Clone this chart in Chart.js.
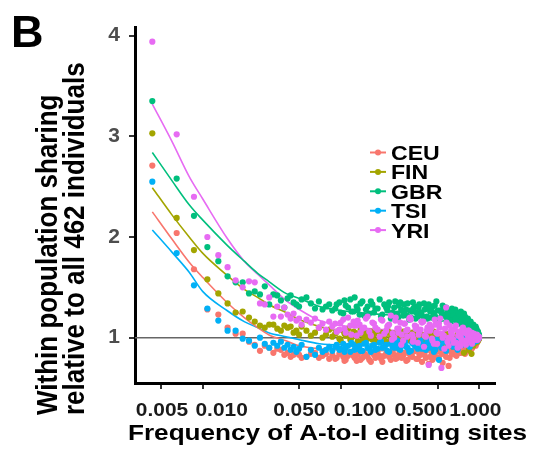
<!DOCTYPE html>
<html>
<head>
<meta charset="utf-8">
<script src="https://cdn.jsdelivr.net/npm/chart.js@4.4.1/dist/chart.umd.min.js"></script>
<style>
  body { margin: 0; background: #fff; }
  #wrap { width: 534px; height: 459px; }
</style>
</head>
<body>
<div id="wrap"><canvas id="sharing" width="534" height="459"></canvas></div>
<script>
// sites shared by k of the 462 individuals -> frequency k/462
const totalIndividuals = 462;
const siteCounts = [
  2, 3, 4, 5, 6, 7, 8, 9, 10, 11,
  12, 13, 14, 15, 16, 17, 18, 19, 20, 21,
  22, 23, 24, 26, 28, 30, 32, 34, 36, 38,
  40, 43, 46, 49, 52, 55, 58, 61, 64, 68,
  72, 76, 80, 85, 90, 95, 100, 106, 112, 118,
  124, 130, 137, 144, 151, 158, 166, 174, 182, 190,
  199, 208, 217, 226, 236, 246, 256, 266, 277, 288,
  299, 310, 322, 334, 346, 358, 370, 382, 394, 406,
  418, 430, 440, 448, 455, 460
];
// second pass over the crowded part (k >= 42)
const moreCounts = [
  42, 45, 48, 50, 54, 57, 60, 63, 66, 70,
  74, 78, 82, 88, 92, 98, 103, 109, 115, 121,
  127, 134, 140, 148, 154, 162, 170, 178, 186, 195,
  204, 212, 222, 231, 241, 251, 261, 272, 282, 293,
  304, 316, 328, 340, 352, 364, 376, 388, 400, 412,
  424, 435, 444, 452, 458
];
// third pass, only GBR and YRI (they cover the top of the cloud)
const thirdCounts = [
  101, 108, 114, 120, 126, 132, 139, 146, 153, 160,
  168, 176, 184, 193, 202, 210, 220, 229, 238, 248,
  258, 268, 279, 290, 301, 313, 325, 337, 349, 361,
  373, 385, 397, 409, 421, 432, 442, 450, 456
];

const populations = ['CEU', 'FIN', 'GBR', 'TSI', 'YRI'];
const colors = ['#F8766D', '#A3A500', '#00BF7D', '#00B0F6', '#E76BF3'];

const ceu = [
  2.71, 2.04, 1.68, 1.28, 1.23, 1.10, 1.04, 1.04, 0.96, 0.93,
  0.87, 0.92, 0.90, 0.85, 0.89, 0.88, 0.83, 0.85, 0.81, 0.83,
  0.86, 0.83, 0.80, 0.81, 0.84, 0.85, 0.80, 0.82, 0.84, 0.79,
  0.83, 0.80, 0.85, 0.77, 0.82, 0.86, 0.80, 0.83, 0.78, 0.84,
  0.81, 0.76, 0.83, 0.86, 0.79, 0.82, 0.85, 0.78, 0.83, 0.80,
  0.86, 0.82, 0.77, 0.84, 0.81, 0.87, 0.79, 0.83, 0.85, 0.80,
  0.74, 0.86, 0.82, 0.88, 0.79, 0.84, 0.87, 0.81, 0.72, 0.86,
  0.89, 0.83, 0.88, 0.85, 0.90, 0.86, 0.91, 0.88, 0.92, 0.89,
  0.93, 0.95, 0.94, 0.97, 0.98, 0.99
];
const ceuMore = [
  0.79, 0.84, 0.81, 0.78, 0.85, 0.82, 0.77, 0.86, 0.80, 0.83,
  0.78, 0.85, 0.80, 0.82, 0.76, 0.84, 0.81, 0.87, 0.79, 0.83,
  0.80, 0.85, 0.78, 0.82, 0.86, 0.79, 0.84, 0.76, 0.83, 0.88,
  0.81, 0.78, 0.85, 0.80, 0.86, 0.75, 0.83, 0.88, 0.80, 0.84,
  0.87, 0.82, 0.90, 0.85, 0.88, 0.84, 0.90, 0.87, 0.93, 0.90,
  0.94, 0.92, 0.96, 0.97, 0.99
];
const fin = [
  3.03, 2.19, 1.87, 1.58, 1.44, 1.34, 1.25, 1.26, 1.20, 1.16,
  1.12, 1.10, 1.13, 1.13, 1.09, 1.07, 1.12, 1.10, 1.11, 1.05,
  1.07, 1.03, 1.11, 1.07, 1.02, 1.05, 1.10, 1.00, 1.03, 1.08,
  1.01, 1.06, 0.97, 1.04, 1.09, 1.00, 1.05, 0.96, 1.07, 1.02,
  0.99, 1.06, 1.03, 0.97, 1.05, 1.01, 1.08, 0.98, 1.04, 1.00,
  0.95, 1.06, 1.02, 0.98, 1.05, 1.01, 0.96, 1.04, 1.00, 0.94,
  1.03, 0.99, 1.06, 0.97, 1.02, 0.93, 1.00, 1.04, 0.96, 1.01,
  0.91, 0.98, 1.03, 0.95, 0.99, 0.85, 0.97, 1.01, 0.94, 0.84,
  0.92, 0.97, 0.99, 0.96, 0.98, 1.00
];
const finMore = [
  1.04, 0.99, 1.07, 1.02, 0.98, 1.06, 1.01, 1.04, 0.97, 1.05,
  1.02, 0.98, 1.06, 1.00, 1.03, 0.96, 1.05, 1.01, 0.97, 1.03,
  1.00, 0.97, 1.04, 0.99, 0.95, 1.03, 0.98, 1.02, 0.96, 1.00,
  0.97, 1.02, 0.94, 0.99, 1.03, 0.96, 1.00, 0.92, 0.98, 1.01,
  0.95, 0.99, 0.93, 0.97, 1.00, 0.94, 0.98, 0.88, 0.96, 0.99,
  0.97, 0.95, 1.00, 0.98, 0.99
];
const gbr = [
  3.35, 2.58, 2.21, 1.90, 1.76, 1.61, 1.55, 1.55, 1.44, 1.46,
  1.43, 1.51, 1.33, 1.43, 1.42, 1.37, 1.30, 1.39, 1.42, 1.35,
  1.33, 1.31, 1.38, 1.40, 1.34, 1.29, 1.36, 1.28, 1.31, 1.33,
  1.27, 1.33, 1.25, 1.37, 1.30, 1.26, 1.40, 1.28, 1.34, 1.22,
  1.31, 1.36, 1.25, 1.29, 1.21, 1.33, 1.27, 1.19, 1.30, 1.24,
  1.35, 1.22, 1.28, 1.18, 1.26, 1.31, 1.21, 1.25, 1.17, 1.29,
  1.33, 1.20, 1.24, 1.36, 1.19, 1.27, 1.22, 1.30, 1.16, 1.25,
  1.20, 1.28, 1.14, 1.22, 1.18, 1.24, 1.12, 1.19, 1.15, 1.10,
  1.13, 1.08, 1.09, 1.05, 1.04, 1.02
];
const gbrMore = [
  1.29, 1.35, 1.24, 1.32, 1.38, 1.26, 1.31, 1.23, 1.36, 1.28,
  1.24, 1.33, 1.29, 1.38, 1.23, 1.30, 1.35, 1.25, 1.21, 1.32,
  1.27, 1.23, 1.34, 1.20, 1.29, 1.25, 1.33, 1.22, 1.28, 1.19,
  1.26, 1.31, 1.21, 1.27, 1.18, 1.32, 1.23, 1.26, 1.20, 1.29,
  1.24, 1.17, 1.22, 1.26, 1.15, 1.21, 1.17, 1.13, 1.16, 1.12,
  1.10, 1.11, 1.07, 1.06, 1.03
];
const gbrThird = [
  1.31, 1.24, 1.36, 1.20, 1.28, 1.33, 1.22, 1.27, 1.35, 1.19,
  1.30, 1.25, 1.34, 1.21, 1.29, 1.26, 1.32, 1.18, 1.27, 1.23,
  1.30, 1.20, 1.25, 1.17, 1.22, 1.19, 1.24, 1.15, 1.20, 1.14,
  1.17, 1.12, 1.14, 1.10, 1.11, 1.08, 1.07, 1.05, 1.03
];
const tsi = [
  2.55, 1.84, 1.52, 1.29, 1.17, 1.07, 1.07, 0.99, 0.97, 0.92,
  1.00, 0.94, 0.90, 0.95, 0.92, 0.96, 0.90, 0.93, 0.88, 0.91,
  0.86, 0.89, 0.93, 0.81, 0.88, 0.83, 0.90, 0.86, 0.88, 0.91,
  0.87, 0.93, 0.89, 0.86, 0.92, 0.95, 0.88, 0.91, 0.87, 0.94,
  0.90, 0.86, 0.93, 0.89, 0.96, 0.91, 0.87, 0.94, 0.90, 0.97,
  0.88, 0.93, 0.91, 0.86, 0.95, 0.92, 0.89, 0.97, 0.93, 0.88,
  0.95, 0.91, 0.86, 0.98, 0.78, 0.90, 0.96, 0.87, 0.94, 0.99,
  0.91, 0.95, 0.88, 0.97, 0.93, 0.99, 0.94, 0.96, 0.91, 0.98,
  0.95, 0.99, 0.97, 1.00, 0.99, 1.00
];
const tsiMore = [
  0.91, 0.88, 0.94, 0.90, 0.86, 0.93, 0.89, 0.92, 0.87, 0.95,
  0.89, 0.92, 0.88, 0.95, 0.90, 0.93, 0.86, 0.91, 0.94, 0.89,
  0.92, 0.96, 0.90, 0.87, 0.94, 0.91, 0.95, 0.89, 0.93, 0.97,
  0.90, 0.94, 0.88, 0.96, 0.92, 0.99, 0.89, 0.95, 0.93, 0.97,
  0.94, 0.98, 0.92, 0.96, 1.00, 0.95, 0.97, 0.93, 0.99, 0.96,
  0.98, 1.00, 0.97, 0.99, 1.00
];
const yri = [
  3.94, 3.02, 2.40, 2.00, 1.82, 1.70, 1.57, 1.50, 1.56, 1.55,
  1.34, 1.33, 1.40, 1.21, 1.31, 1.21, 1.30, 1.23, 1.19, 1.24,
  1.17, 1.19, 1.13, 1.18, 1.15, 1.19, 1.10, 1.14, 1.08, 1.16,
  1.11, 1.06, 1.15, 1.09, 1.20, 1.03, 1.12, 1.17, 1.05, 1.10,
  1.21, 1.02, 1.14, 1.08, 1.18, 1.04, 1.11, 1.22, 1.00, 1.09,
  1.15, 0.97, 1.07, 1.19, 1.03, 1.12, 0.95, 1.08, 1.16, 1.01,
  0.73, 1.10, 0.94, 1.05, 1.14, 0.70, 1.02, 1.30, 0.92, 1.06,
  0.98, 1.11, 0.90, 1.04, 0.96, 1.08, 0.93, 1.02, 0.97, 1.05,
  0.99, 1.01, 0.98, 1.00, 1.01, 1.00
];
const yriMore = [
  1.14, 1.08, 1.18, 1.05, 1.12, 1.16, 1.02, 1.13, 1.09, 1.19,
  1.06, 1.15, 1.10, 1.01, 1.17, 1.07, 1.13, 1.04, 1.20, 1.09,
  1.03, 1.14, 1.08, 1.18, 0.99, 1.11, 1.06, 1.15, 1.02, 1.10,
  1.07, 0.97, 1.13, 1.04, 1.19, 1.00, 1.09, 0.96, 1.12, 1.03,
  1.08, 0.95, 1.06, 1.00, 1.10, 0.97, 1.04, 1.07, 0.99, 1.03,
  1.02, 0.98, 1.03, 1.00, 1.01
];
const yriThird = [
  1.12, 0.98, 1.17, 1.05, 0.93, 1.14, 1.01, 1.20, 0.96, 1.09,
  1.03, 1.16, 0.91, 1.07, 1.13, 0.99, 1.18, 0.94, 1.10, 1.04,
  0.89, 1.15, 1.00, 1.08, 0.95, 1.12, 1.02, 0.92, 1.09, 1.05,
  0.97, 1.07, 1.01, 0.94, 1.04, 0.99, 1.02, 0.98, 1.00
];

// smoothed fits
const fitFreq = [0.00433, 0.006, 0.008, 0.01, 0.015, 0.02, 0.025, 0.03, 0.04, 0.05, 0.07, 0.1, 0.2, 0.5, 1.0];
const ceuFit = [2.25, 1.98, 1.75, 1.60, 1.35, 1.20, 1.10, 1.03, 0.97, 0.92, 0.89, 0.88, 0.87, 0.88, 0.94];
const finFit = [2.49, 2.22, 2.00, 1.84, 1.62, 1.48, 1.40, 1.33, 1.25, 1.18, 1.11, 1.06, 1.02, 1.00, 0.99];
const gbrFit = [2.84, 2.56, 2.32, 2.17, 1.92, 1.76, 1.64, 1.56, 1.44, 1.39, 1.31, 1.27, 1.23, 1.18, 1.05];
const tsiFit = [2.07, 1.85, 1.65, 1.46, 1.27, 1.16, 1.10, 1.05, 1.01, 0.98, 0.94, 0.93, 0.94, 0.96, 0.99];
const yriFit = [3.32, 2.95, 2.60, 2.38, 1.99, 1.76, 1.63, 1.53, 1.37, 1.28, 1.17, 1.12, 1.08, 1.04, 1.01];

const xTicks = [0.005, 0.01, 0.05, 0.1, 0.5, 1];
const xTickLabels = ['0.005', '0.010', '0.050', '0.100', '0.500', '1.000'];
const xLabelNudge = [1, 19, 0, 19, -17, -4]; // the labels sit off their ticks in the original
const yTicks = [1, 2, 3, 4];

const baseCounts = siteCounts.concat(moreCounts);
const pointSeries = [
  { counts: baseCounts, vals: ceu.concat(ceuMore) },
  { counts: baseCounts, vals: fin.concat(finMore) },
  { counts: baseCounts.concat(thirdCounts), vals: gbr.concat(gbrMore, gbrThird) },
  { counts: baseCounts, vals: tsi.concat(tsiMore) },
  { counts: baseCounts.concat(thirdCounts), vals: yri.concat(yriMore, yriThird) }
];
const fitSeries = [ceuFit, finFit, gbrFit, tsiFit, yriFit];
const FONT = '"Liberation Sans", Arial, sans-serif';

let datasets = [];
// fits under the points
fitSeries.forEach((vals, i) => {
  datasets.push({
    type: 'line',
    label: populations[i] + ' fit',
    data: vals.map((v, j) => ({ x: fitFreq[j], y: v })),
    borderColor: colors[i],
    borderWidth: 1.6,
    pointRadius: 0,
    fill: false,
    cubicInterpolationMode: 'monotone',
    order: 10
  });
});
// CEU drawn first, YRI last (on top)
pointSeries.forEach((s, i) => {
  datasets.push({
    type: 'scatter',
    label: populations[i],
    data: s.vals.map((v, j) => ({ x: s.counts[j] / totalIndividuals, y: v })),
    backgroundColor: colors[i],
    borderWidth: 0,
    pointRadius: 3.1,
    order: 5 - i
  });
});

// stretch text a little sideways like the original figure
function wideText(ctx, text, x, y, sx) {
  ctx.save();
  ctx.translate(x, y);
  ctx.scale(sx, 1);
  ctx.fillText(text, 0, 0);
  ctx.restore();
}

const decor = {
  id: 'decor',
  beforeDatasetsDraw(chart) {
    const { ctx, chartArea, scales } = chart;
    const y1 = scales.y.getPixelForValue(1);
    ctx.save();
    ctx.strokeStyle = '#666';
    ctx.lineWidth = 1.5;
    ctx.beginPath();
    ctx.moveTo(chartArea.left, y1);
    ctx.lineTo(chartArea.right, y1);
    ctx.stroke();
    ctx.restore();
  },
  afterDraw(chart) {
    const ctx = chart.ctx;
    const xs = chart.scales.x;
    ctx.save();
    ctx.fillStyle = '#000';
    ctx.textBaseline = 'alphabetic';
    ctx.textAlign = 'left';

    // panel letter
    ctx.font = 'bold 45px ' + FONT;
    ctx.fillText('B', 11, 47);

    // x tick labels
    ctx.font = 'bold 19px ' + FONT;
    ctx.fillStyle = '#1a1a1a';
    ctx.textAlign = 'center';
    xTicks.forEach((v, i) => {
      wideText(ctx, xTickLabels[i], xs.getPixelForValue(v) + xLabelNudge[i], 415.5, 1.1);
    });
    ctx.textAlign = 'left';
    ctx.fillStyle = '#000';

    // x title
    ctx.font = 'bold 22px ' + FONT;
    let xt = 'Frequency of A-to-I editing sites';
    let w = ctx.measureText(xt).width;
    wideText(ctx, xt, 128, 440, 399 / w);

    // y title (two lines, both starting at the bottom)
    ctx.font = 'bold 26px ' + FONT;
    ['Within population sharing', 'relative to all 462 individuals'].forEach((t, i) => {
      ctx.save();
      ctx.translate(57 + i * 27, 415);
      ctx.rotate(-Math.PI / 2);
      ctx.scale(1, 1.1);
      ctx.fillText(t, 0, 0);
      ctx.restore();
    });

    // legend
    ctx.font = 'bold 21px ' + FONT;
    populations.forEach((p, i) => {
      let cy = 152.5 + i * 19.4;
      ctx.strokeStyle = colors[i];
      ctx.lineWidth = 2;
      ctx.beginPath();
      ctx.moveTo(370, cy);
      ctx.lineTo(386, cy);
      ctx.stroke();
      ctx.fillStyle = colors[i];
      ctx.beginPath();
      ctx.arc(378, cy, 3, 0, Math.PI * 2);
      ctx.fill();
      ctx.fillStyle = '#000';
      wideText(ctx, p, 391, cy + 7.5, 1.1);
    });
    ctx.restore();
  }
};

new Chart(document.getElementById('sharing'), {
  data: { datasets: datasets },
  options: {
    responsive: false,
    animation: false,
    layout: { padding: { left: 0, right: 39, top: 27, bottom: 0 } },
    plugins: {
      legend: { display: false },
      tooltip: { enabled: false },
      title: { display: false }
    },
    scales: {
      x: {
        type: 'logarithmic',
        min: 0.003245,
        max: 1.2986,
        afterBuildTicks: (scale) => { scale.ticks = xTicks.map(v => ({ value: v })); },
        afterFit: (scale) => { scale.height = 76; },
        ticks: { display: false },
        grid: { drawOnChartArea: false, drawTicks: true, tickLength: 6, color: '#333', lineWidth: 2 },
        border: { display: true, color: '#000', width: 3 }
      },
      y: {
        type: 'linear',
        min: 0.55,
        max: 4.086,
        afterBuildTicks: (scale) => { scale.ticks = yTicks.map(v => ({ value: v })); },
        afterFit: (scale) => { scale.width = 135; },
        ticks: {
          padding: 9,
          color: '#4d4d4d',
          font: { family: FONT, size: 21, weight: 'bold' }
        },
        grid: { drawOnChartArea: false, drawTicks: true, tickLength: 6, color: '#333', lineWidth: 2 },
        border: { display: true, color: '#000', width: 3 }
      }
    }
  },
  plugins: [decor]
});
</script>
</body>
</html>
